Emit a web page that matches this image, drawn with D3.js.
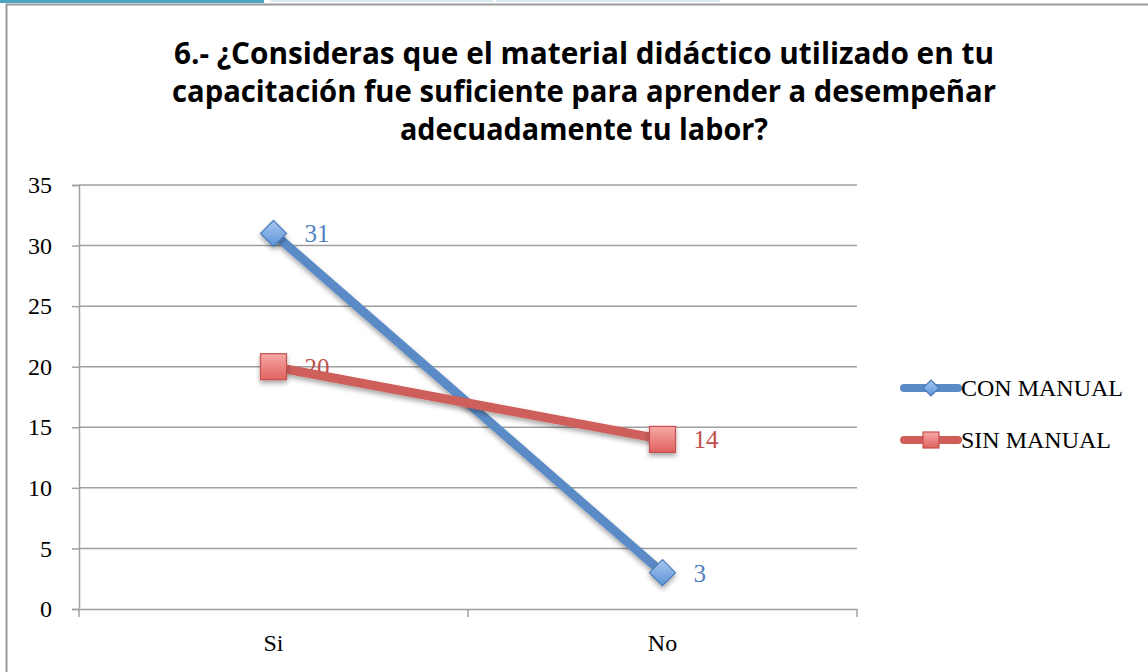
<!DOCTYPE html>
<html>
<head>
<meta charset="utf-8">
<script src="https://cdn.jsdelivr.net/npm/d3@7"></script>
<style>
  body { margin: 0; background: #fff; }
  svg { display: block; }
</style>
</head>
<body>
<div id="chart"></div>
<script>
// data
const categories = ["Si", "No"];
const conManual = [31, 3];
const sinManual = [20, 14];
const seriesNames = ["CON MANUAL", "SIN MANUAL"];
const yTicks = [0, 5, 10, 15, 20, 25, 30, 35];
const titleLines = [
  "6.- ¿Consideras que el material didáctico utilizado en tu",
  "capacitación fue suficiente para aprender a desempeñar",
  "adecuadamente tu labor?"
];

const W = 1148, H = 672;
const plot = { left: 79, right: 857, top: 185, bottom: 609 };
const serif = "'Liberation Serif', 'DejaVu Serif', serif";

const svg = d3.select("#chart").append("svg")
  .attr("width", W).attr("height", H);

const defs = svg.append("defs");
const gBlue = defs.append("linearGradient").attr("id", "gBlue")
  .attr("x1", 0).attr("y1", 0).attr("x2", 0).attr("y2", 1);
gBlue.append("stop").attr("offset", "0%").attr("stop-color", "#a9c8f0");
gBlue.append("stop").attr("offset", "100%").attr("stop-color", "#5d93d8");
const gRed = defs.append("linearGradient").attr("id", "gRed")
  .attr("x1", 0).attr("y1", 0).attr("x2", 0).attr("y2", 1);
gRed.append("stop").attr("offset", "0%").attr("stop-color", "#f6a9a7");
gRed.append("stop").attr("offset", "100%").attr("stop-color", "#e0625e");
const shadow = defs.append("filter").attr("id", "shadow")
  .attr("x", "-50%").attr("y", "-50%").attr("width", "200%").attr("height", "200%");
shadow.append("feDropShadow").attr("dx", 0).attr("dy", 3).attr("stdDeviation", 2.5)
  .attr("flood-color", "#000").attr("flood-opacity", 0.35);

// top tabs strip
svg.append("rect").attr("x", 0).attr("y", 0).attr("width", 264).attr("height", 3).attr("fill", "#4ba6c1");
svg.append("rect").attr("x", 271).attr("y", 0).attr("width", 222).attr("height", 2).attr("fill", "#d4e9f0");
svg.append("rect").attr("x", 496).attr("y", 0).attr("width", 224).attr("height", 2).attr("fill", "#d4e9f0");

// chart frame
svg.append("rect").attr("x", 6.5).attr("y", 4.5).attr("width", W + 20).attr("height", H + 20)
  .attr("fill", "none").attr("stroke", "#9a9a9a").attr("stroke-width", 2);

// title
const title = svg.append("g").attr("font-family", "'Open Sans', 'Liberation Sans', sans-serif")
  .attr("font-weight", "bold").attr("font-size", 30).attr("fill", "#000").attr("text-anchor", "middle");
const titleWidths = [820, 824, 368];
const titleY = [64, 102, 140];
titleLines.forEach((t, i) => {
  title.append("text").attr("x", 584).attr("y", titleY[i])
    .attr("textLength", titleWidths[i]).attr("lengthAdjust", "spacingAndGlyphs")
    .text(t);
});

// scales
const x = d3.scaleBand().domain(categories).range([plot.left, plot.right]);
const y = d3.scaleLinear().domain([0, 35]).range([plot.bottom, plot.top]);

// gridlines
svg.append("g").selectAll("line").data(yTicks.filter(d => d > 0)).join("line")
  .attr("x1", plot.left).attr("x2", plot.right)
  .attr("y1", d => y(d)).attr("y2", d => y(d))
  .attr("stroke", "#a0a0a0").attr("stroke-width", 1.5);

// y axis
const yAxis = svg.append("g").attr("transform", `translate(${plot.left},0)`)
  .call(d3.axisLeft(y).tickValues(yTicks).tickSize(7).tickPadding(20));
yAxis.select(".domain").attr("stroke", "#a0a0a0").attr("stroke-width", 1.5);
yAxis.selectAll(".tick line").attr("stroke", "#a0a0a0").attr("stroke-width", 1.5);
yAxis.selectAll("text").attr("font-family", serif).attr("font-size", 24).attr("fill", "#000");

// x axis
const xAxis = svg.append("g").attr("transform", `translate(0,${plot.bottom})`)
  .call(d3.axisBottom(x).tickSize(0).tickPadding(25));
xAxis.select(".domain").attr("stroke", "#a0a0a0").attr("stroke-width", 1.5);
xAxis.selectAll("text").attr("font-family", serif).attr("font-size", 24).attr("fill", "#000");
const bounds = [plot.left, plot.left + x.bandwidth(), plot.right];
xAxis.selectAll(".sep").data(bounds).join("line").attr("class", "sep")
  .attr("x1", d => d).attr("x2", d => d).attr("y1", 0).attr("y2", 8)
  .attr("stroke", "#a0a0a0").attr("stroke-width", 1.5);

const cx = c => x(c) + x.bandwidth() / 2;
const series = [
  { name: seriesNames[0], values: conManual, color: "#5a8bc6", label: "#4f7fbf", marker: "diamond", fill: "url(#gBlue)", stroke: "#4a7cbd" },
  { name: seriesNames[1], values: sinManual, color: "#cf5e5a", label: "#c0504d", marker: "square", fill: "url(#gRed)", stroke: "#c4514d" }
];

const line = d3.line().x((d, i) => cx(categories[i])).y(d => y(d));

function drawMarker(g, type, px, py, s, fill, stroke) {
  if (type === "diamond") {
    g.append("path")
      .attr("d", `M${px},${py - s}L${px + s},${py}L${px},${py + s}L${px - s},${py}Z`)
      .attr("fill", fill).attr("stroke", stroke).attr("stroke-width", 1.2);
  } else {
    g.append("rect").attr("x", px - s).attr("y", py - s).attr("width", 2 * s).attr("height", 2 * s)
      .attr("fill", fill).attr("stroke", stroke).attr("stroke-width", 1.2);
  }
}

// blue line + markers
svg.append("path").datum(conManual).attr("d", line)
  .attr("fill", "none").attr("stroke", series[0].color).attr("stroke-width", 9)
  .attr("filter", "url(#shadow)");
const gBlueM = svg.append("g").attr("filter", "url(#shadow)");
conManual.forEach((v, i) => drawMarker(gBlueM, "diamond", cx(categories[i]), y(v), 13, "url(#gBlue)", "#4a7cbd"));

// data labels
series.forEach(s => {
  svg.append("g").selectAll("text").data(s.values).join("text")
    .attr("x", (d, i) => cx(categories[i]) + 31)
    .attr("y", d => y(d) + 9)
    .attr("font-family", serif).attr("font-size", 25).attr("fill", s.label)
    .text(d => d);
});

// red line drawn over its label, as in the original
svg.append("path").datum(sinManual).attr("d", line)
  .attr("fill", "none").attr("stroke", series[1].color).attr("stroke-width", 9)
  .attr("filter", "url(#shadow)");
const gRedM = svg.append("g").attr("filter", "url(#shadow)");
sinManual.forEach((v, i) => drawMarker(gRedM, "square", cx(categories[i]), y(v), 13, "url(#gRed)", "#c4514d"));

// legend
const legend = svg.append("g");
series.forEach((s, i) => {
  const ly = 388 + i * 52;
  const g = legend.append("g");
  g.append("line").attr("x1", 904).attr("x2", 958).attr("y1", ly).attr("y2", ly)
    .attr("stroke", s.color).attr("stroke-width", 8).attr("stroke-linecap", "round");
  drawMarker(g, s.marker, 931, ly, 8, s.fill, s.stroke);
  g.append("text").attr("x", 961).attr("y", ly + 8)
    .attr("font-family", serif).attr("font-size", 24).attr("fill", "#000").text(s.name);
});
</script>
</body>
</html>
